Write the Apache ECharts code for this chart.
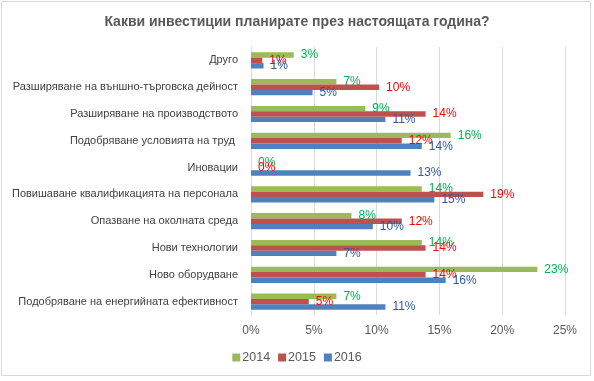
<!DOCTYPE html>
<html>
<head>
<meta charset="utf-8">
<script src="https://cdn.jsdelivr.net/npm/echarts@6/dist/echarts.min.js"></script>
<style>
html,body{margin:0;padding:0;background:#fff;}
#c{width:594px;height:381px;}
</style>
</head>
<body>
<div id="c"></div>
<script>
var titleText = 'Какви инвестиции планирате през настоящата година?';
var categories = [
  'Друго',
  'Разширяване на външно-търговска дейност',
  'Разширяване на производството',
  'Подобряване условията на труд ',
  'Иновации',
  'Повишаване квалификацията на персонала',
  'Опазване на околната среда',
  'Нови технологии',
  'Ново оборудване',
  'Подобряване на енергийната ефективност'
];
var seriesNames = ['2014', '2015', '2016'];
var values2014 = [3.4, 6.8, 9.1, 15.9, 0, 13.6, 8.0, 13.6, 22.8, 6.8];
var values2015 = [0.9, 10.2, 13.9, 12.0, 0, 18.5, 12.0, 13.9, 13.9, 4.6];
var values2016 = [1.0, 4.9, 10.7, 13.6, 12.7, 14.6, 9.7, 6.8, 15.5, 10.7];
var xTicks = [0, 5, 10, 15, 20, 25];

var barColors = ['#9BBB59', '#C0504D', '#4F81BD'];
var labelColors = ['#00B050', '#FF0000', '#35599A'];
var allValues = [values2014, values2015, values2016];
var FONT = '"Liberation Sans", Arial, sans-serif';

var chart = echarts.init(document.getElementById('c'));
var series = seriesNames.map(function (name, i) {
  return {
    name: name,
    type: 'bar',
    data: allValues[i],
    barWidth: 5.4,
    barGap: '0%',
    itemStyle: { color: barColors[i] },
    label: {
      show: true,
      position: 'right',
      distance: 7,
      color: labelColors[i],
      fontFamily: FONT,
      fontSize: 12,
      formatter: function (p) { return Math.round(p.value) + '%'; }
    }
  };
});

chart.setOption({
  animation: false,
  backgroundColor: '#fff',
  title: {
    text: titleText,
    left: 'center',
    top: 10,
    textStyle: { fontFamily: FONT, fontSize: 14, fontWeight: 'bold', color: '#595959' }
  },
  legend: {
    data: seriesNames,
    bottom: 12,
    left: 'center',
    itemWidth: 8,
    itemHeight: 8,
    itemGap: 8,
    icon: 'rect',
    textStyle: { fontFamily: FONT, fontSize: 12.5, color: '#595959', padding: [0, 0, 0, -3] }
  },
  grid: { left: 251, right: 29, top: 47, bottom: 66 },
  xAxis: {
    type: 'value',
    min: xTicks[0],
    max: xTicks[xTicks.length - 1],
    interval: 5,
    axisLine: { show: false },
    axisTick: { show: false },
    splitLine: { show: true, lineStyle: { color: '#D9D9D9', width: 1 } },
    axisLabel: { formatter: '{value}%', fontFamily: FONT, fontSize: 12, color: '#595959', margin: 10 }
  },
  yAxis: {
    type: 'category',
    data: categories,
    inverse: true,
    axisLine: { show: true, lineStyle: { color: '#D9D9D9' } },
    axisTick: { show: false },
    axisLabel: { fontFamily: FONT, fontSize: 11, color: '#404040', margin: 13 }
  },
  graphic: [{
    type: 'rect',
    shape: { x: 1.5, y: 1.5, width: 589, height: 374 },
    style: { fill: 'none', stroke: '#D9D9D9', lineWidth: 1 },
    silent: true
  }],
  series: series
});
</script>
</body>
</html>
